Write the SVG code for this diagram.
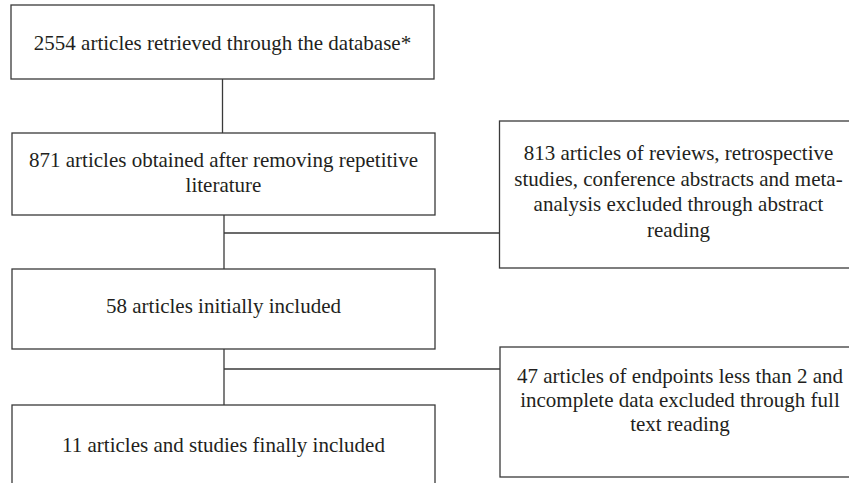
<svg xmlns="http://www.w3.org/2000/svg" width="849" height="483" viewBox="0 0 849 483">
<style>
.box{fill:#fff;stroke:#3a3a3a;stroke-width:1.3}
.ln{fill:none;stroke:#3a3a3a;stroke-width:1.3}
text{font-family:"Liberation Serif","Times New Roman",serif;font-size:21px;fill:#231f20;text-anchor:middle}
</style>
<rect width="849" height="483" fill="#fff"/>
<g id="connectors">
<line class="ln" x1="222.5" y1="79" x2="222.5" y2="133"/>
<line class="ln" x1="224" y1="215" x2="224" y2="269"/>
<line class="ln" x1="224" y1="233" x2="499.5" y2="233"/>
<line class="ln" x1="224" y1="349" x2="224" y2="405"/>
<line class="ln" x1="224" y1="369" x2="500" y2="369"/>
</g>
<g id="n1">
<rect class="box" x="11" y="5" width="423" height="74"/>
<text x="222.5" y="50">2554 articles retrieved through the database*</text>
</g>
<g id="n2">
<rect class="box" x="12" y="133" width="423" height="82"/>
<text x="223.5" y="167">871 articles obtained after removing repetitive</text>
<text x="223.5" y="192">literature</text>
</g>
<g id="n3">
<rect class="box" x="499.5" y="121" width="360" height="147"/>
<text x="678.5" y="160">813 articles of reviews, retrospective</text>
<text x="678.5" y="185.5">studies, conference abstracts and meta-</text>
<text x="678.5" y="211">analysis excluded through abstract</text>
<text x="678.5" y="236.5">reading</text>
</g>
<g id="n4">
<rect class="box" x="12" y="269" width="423" height="80"/>
<text x="223.5" y="313">58 articles initially included</text>
</g>
<g id="n5">
<rect class="box" x="500" y="347" width="360" height="130"/>
<text x="680" y="383">47 articles of endpoints less than 2 and</text>
<text x="680" y="407">incomplete data excluded through full</text>
<text x="680" y="431">text reading</text>
</g>
<g id="n6">
<rect class="box" x="12" y="405" width="423" height="90"/>
<text x="223.5" y="452">11 articles and studies finally included</text>
</g>
</svg>
